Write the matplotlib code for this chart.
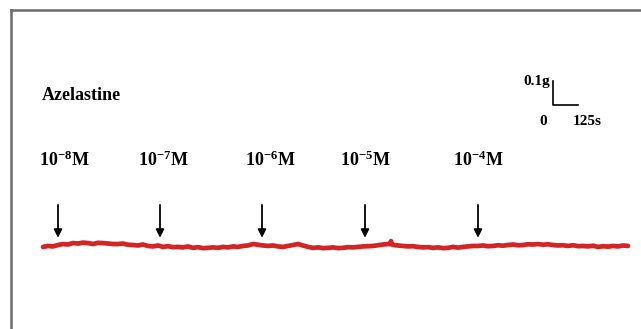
import numpy as np
import matplotlib.pyplot as plt

plt.rcParams['font.family'] = ['Liberation Serif', 'DejaVu Serif']
plt.rcParams['mathtext.fontset'] = 'custom'
plt.rcParams['mathtext.rm'] = 'Liberation Serif:bold'
plt.rcParams['mathtext.bf'] = 'Liberation Serif:bold'

# 记录数据：每 25 s 一个点，张力 (g)
trace_step = 25
trace_g = [-0.008, -0.004, -0.006, 0.000, 0.004, 0.002, 0.008, 0.006, 0.010,
           0.008, 0.004, 0.009, 0.008, 0.006, 0.004, 0.004, 0.006, 0.001,
           0.000, -0.002, 0.002, -0.004, -0.006, -0.002, -0.008, -0.005, -0.009,
           -0.008, -0.010, -0.006, -0.012, -0.009, -0.013, -0.012, -0.010, -0.012,
           -0.008, -0.010, -0.006, -0.008, -0.004, -0.002, 0.004, 0.001, -0.002,
           -0.004, -0.002, -0.006, -0.008, -0.004, 0.000, 0.004, -0.002, -0.008,
           -0.012, -0.010, -0.013, -0.012, -0.010, -0.013, -0.012, -0.009, -0.010,
           -0.008, -0.006, -0.005, -0.004, -0.001, 0.002, 0.004, 0.000, -0.002,
           -0.004, -0.006, -0.005, -0.008, -0.010, -0.009, -0.012, -0.010, -0.013,
           -0.012, -0.008, -0.011, -0.008, -0.006, -0.004, -0.004, -0.002, -0.005,
           -0.004, -0.001, -0.003, 0.000, 0.002, -0.001, 0.000, 0.003, 0.002,
           0.004, 0.001, 0.003, 0.000, -0.002, -0.001, -0.004, -0.001, -0.005,
           -0.004, -0.006, -0.003, -0.008, -0.005, -0.007, -0.004, -0.006, -0.002,
           -0.004]
spike_t = 1740
spike_g = 0.016

# 加药时间 (s) 与浓度
dose_t = [75, 585, 1095, 1610, 2175]
label_t = [105, 600, 1135, 1610, 2175]
dose_exp = [-8, -7, -6, -5, -4]

drug_name = 'Azelastine'
bar_g = 0.1
bar_s = 125

t = np.arange(len(trace_g)) * trace_step
g = np.array(trace_g)
i = np.searchsorted(t, spike_t)
t = np.insert(t, [i, i, i], [spike_t - 3, spike_t, spike_t + 3])
g = np.insert(g, [i, i, i], [g[i - 1], spike_g, g[i - 1]])

fig = plt.figure(figsize=(6.41, 3.29), dpi=100)
ax = fig.add_axes([11 / 641, 0, 630 / 641, 319 / 329])
ax.set_xlim(-160, 2990)
ax.set_ylim(-0.35, 0.979)
ax.set_xticks([])
ax.set_yticks([])
for s in ['right', 'bottom']:
    ax.spines[s].set_visible(False)
for s in ['left', 'top']:
    ax.spines[s].set_color('#6a6a6a')
    ax.spines[s].set_linewidth(1.8)

ax.plot(t, g, color='#d42424', lw=3.4, solid_capstyle='round')

for td, tl, e in zip(dose_t, label_t, dose_exp):
    ax.annotate('', xy=(td, 0.030), xytext=(td, 0.167),
                arrowprops=dict(arrowstyle='-|>', color='black', lw=1.3,
                                mutation_scale=12, shrinkA=0, shrinkB=0))
    ax.text(tl, 0.354, r'$\mathbf{10^{%d}M}$' % e, ha='center', va='center', fontsize=13)

ax.text(-5, 0.621, drug_name, ha='left', va='center', fontsize=13, fontweight='bold')

# 标尺
x0, y0 = 2550, 0.583
ax.plot([x0, x0, x0 + bar_s], [y0 + bar_g, y0, y0], color='black', lw=1.2)
ax.text(x0 - 15, y0 + bar_g, '%.1fg' % bar_g, ha='right', va='center', fontsize=11, fontweight='bold')
ax.text(x0 - 50, 0.5125, '0', ha='center', va='center', fontsize=11, fontweight='bold')
ax.text(x0 + 170, 0.5125, '%ds' % bar_s, ha='center', va='center', fontsize=11, fontweight='bold')

fig.savefig('out.png', dpi=100)
